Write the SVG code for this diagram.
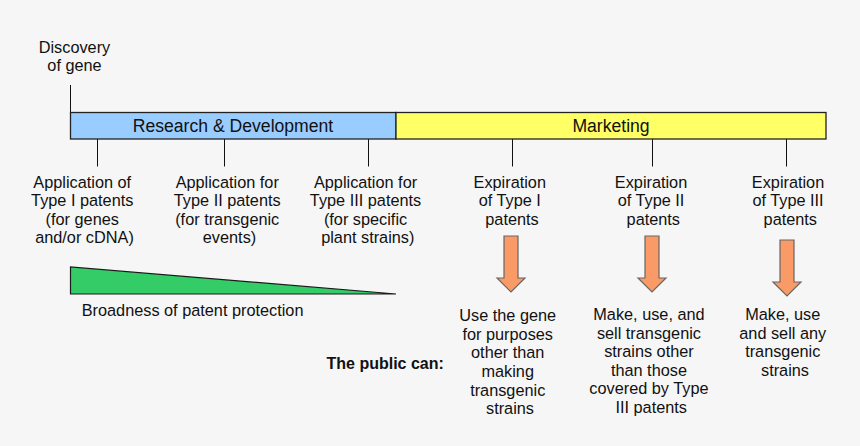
<svg xmlns="http://www.w3.org/2000/svg" width="860" height="446" viewBox="0 0 860 446">
  <style>
    text { font-family: "Liberation Sans", Arial, sans-serif; fill: #111; }
    .lbl { font-size: 16.3px; text-anchor: middle; }
    .bar { font-size: 17.6px; text-anchor: middle; }
    .tick { stroke: #111; stroke-width: 1; fill: none; }
    .arrow { fill: #FA9A66; stroke: #666; stroke-width: 1.2; stroke-linejoin: miter; }
    .seg { stroke: #222; stroke-width: 1.3; }
  </style>
  <rect x="0" y="0" width="860" height="446" fill="#F6F6F6"/>

  <g id="connectors">
    <line class="tick" x1="70.5" y1="85" x2="70.5" y2="112"/>
    <line class="tick" x1="97.5" y1="139" x2="97.5" y2="166.5"/>
    <line class="tick" x1="224.5" y1="139" x2="224.5" y2="166.5"/>
    <line class="tick" x1="368.5" y1="139" x2="368.5" y2="166.5"/>
    <line class="tick" x1="512.5" y1="139" x2="512.5" y2="166.5"/>
    <line class="tick" x1="652.5" y1="139" x2="652.5" y2="166.5"/>
    <line class="tick" x1="786.5" y1="139" x2="786.5" y2="166.5"/>
    <polygon class="arrow" points="504,236 518,236 518,278 525,278 511,292 497,278 504,278"/>
    <polygon class="arrow" points="645,236 659,236 659,278 666,278 652,292 638,278 645,278"/>
    <polygon class="arrow" points="780,240 794,240 794,282 801,282 787,296 773,282 780,282"/>
  </g>

  <g id="discovery">
    <text class="lbl" x="74.5" y="53.3">Discovery</text>
    <text class="lbl" x="74.5" y="70.8">of gene</text>
  </g>

  <g id="research">
    <rect class="seg" x="70.5" y="112.5" width="325.5" height="26.5" fill="#99CCFF"/>
    <text class="bar" x="233" y="132">Research &amp; Development</text>
  </g>

  <g id="marketing">
    <rect class="seg" x="396" y="112.5" width="430" height="26.5" fill="#FFFF66"/>
    <text class="bar" x="611" y="132">Marketing</text>
  </g>

  <g id="app1">
    <text class="lbl" x="84.5" y="188">
      <tspan x="84.5">Application of</tspan>
      <tspan x="84.5" dy="18.3">Type I patents</tspan>
      <tspan x="84.5" dy="18.3">(for genes</tspan>
      <tspan x="84.5" dy="18.3">and/or cDNA)</tspan>
    </text>
  </g>
  <g id="app2">
    <text class="lbl" x="229.5" y="188">
      <tspan x="229.5">Application for</tspan>
      <tspan x="229.5" dy="18.3">Type II patents</tspan>
      <tspan x="229.5" dy="18.3">(for transgenic</tspan>
      <tspan x="229.5" dy="18.3">events)</tspan>
    </text>
  </g>
  <g id="app3">
    <text class="lbl" x="367.8" y="188">
      <tspan x="367.8">Application for</tspan>
      <tspan x="367.8" dy="18.3">Type III patents</tspan>
      <tspan x="367.8" dy="18.3">(for specific</tspan>
      <tspan x="367.8" dy="18.3">plant strains)</tspan>
    </text>
  </g>

  <g id="exp1">
    <text class="lbl" x="512" y="188">
      <tspan x="512">Expiration</tspan>
      <tspan x="512" dy="18.3">of Type I</tspan>
      <tspan x="512" dy="18.3">patents</tspan>
    </text>
  </g>
  <g id="exp2">
    <text class="lbl" x="653.3" y="188">
      <tspan x="653.3">Expiration</tspan>
      <tspan x="653.3" dy="18.3">of Type II</tspan>
      <tspan x="653.3" dy="18.3">patents</tspan>
    </text>
  </g>
  <g id="exp3">
    <text class="lbl" x="790.3" y="188">
      <tspan x="790.3">Expiration</tspan>
      <tspan x="790.3" dy="18.3">of Type III</tspan>
      <tspan x="790.3" dy="18.3">patents</tspan>
    </text>
  </g>

  <g id="broadness">
    <polygon points="70.5,267 70.5,294 396,294" fill="#33CC66" stroke="#1a1a1a" stroke-width="1.2"/>
    <text x="81.7" y="316" style="font-size:16.3px">Broadness of patent protection</text>
  </g>

  <g id="public">
    <text x="326.5" y="369" style="font-size:16px;font-weight:bold">The public can:</text>
  </g>

  <g id="can1">
    <text class="lbl" x="510" y="320.8">
      <tspan x="510">Use the gene</tspan>
      <tspan x="510" dy="18.7">for purposes</tspan>
      <tspan x="510" dy="18.7">other than</tspan>
      <tspan x="510" dy="18.7">making</tspan>
      <tspan x="510" dy="18.7">transgenic</tspan>
      <tspan x="510" dy="18.7">strains</tspan>
    </text>
  </g>
  <g id="can2">
    <text class="lbl" x="651.2" y="320.3">
      <tspan x="651.2">Make, use, and</tspan>
      <tspan x="651.2" dy="18.5">sell transgenic</tspan>
      <tspan x="651.2" dy="18.5">strains other</tspan>
      <tspan x="651.2" dy="18.5">than those</tspan>
      <tspan x="651.2" dy="18.5">covered by Type</tspan>
      <tspan x="651.2" dy="18.5">III patents</tspan>
    </text>
  </g>
  <g id="can3">
    <text class="lbl" x="785" y="320.3">
      <tspan x="785">Make, use</tspan>
      <tspan x="785" dy="18.5">and sell any</tspan>
      <tspan x="785" dy="18.5">transgenic</tspan>
      <tspan x="785" dy="18.5">strains</tspan>
    </text>
  </g>
</svg>
